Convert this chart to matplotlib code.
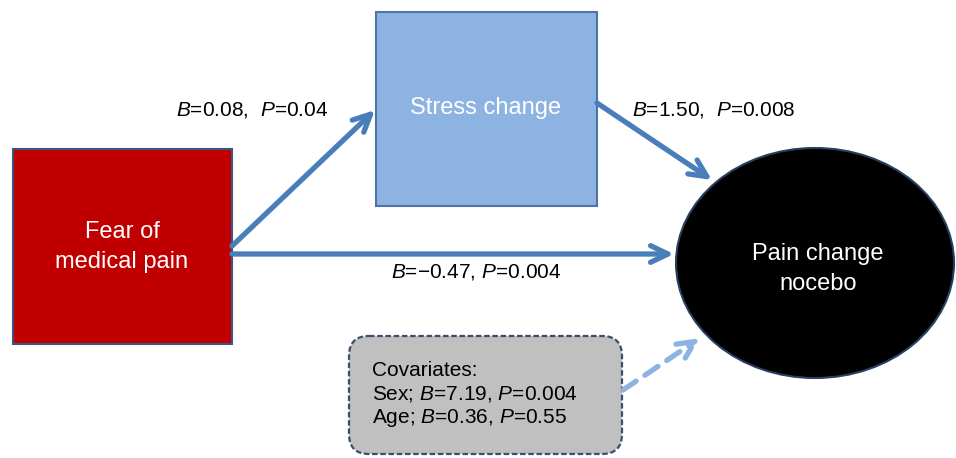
import matplotlib
matplotlib.use("Agg")
import matplotlib.pyplot as plt
from matplotlib.patches import Rectangle, Ellipse, FancyBboxPatch

plt.rcParams['font.family'] = ['Liberation Sans', 'DejaVu Sans']
plt.rcParams['mathtext.fontset'] = 'custom'
plt.rcParams['mathtext.rm'] = 'Liberation Sans'
plt.rcParams['mathtext.it'] = 'Liberation Sans:italic'

# Node labels
node_fear = "Fear of\nmedical pain"
node_stress = "Stress change"
node_pain = "Pain change\nnocebo"

# Path coefficients
B_a, P_a = "0.08", "0.04"
B_b, P_b = "1.50", "0.008"
B_c, P_c = "\u22120.47", "0.004"
cov_title = "Covariates:"
cov_names = ["Sex", "Age"]
cov_B = ["7.19", "0.36"]
cov_P = ["0.004", "0.55"]

W, H = 956, 458
fig = plt.figure(figsize=(W / 100, H / 100), dpi=100)
ax = fig.add_axes([0, 0, 1, 1])
ax.set_xlim(0, W)
ax.set_ylim(H, 0)
ax.axis('off')

arrow_col = '#4A7EBB'
edge_col = '#3B557F'

# Boxes
ax.add_patch(Rectangle((13, 149), 219, 195, facecolor='#C00000', edgecolor=edge_col, lw=1.5, zorder=2))
ax.add_patch(Rectangle((376, 12), 221, 194, facecolor='#8DB3E2', edgecolor='#4F72A8', lw=1.5, zorder=2))
ax.add_patch(Ellipse((815, 263), 278, 230, facecolor='black', edgecolor='#27405F', lw=1.5, zorder=2))
ax.add_patch(FancyBboxPatch((349, 336), 273, 118, boxstyle="round,pad=0,rounding_size=20",
                            facecolor='#C0C0C0', edgecolor='#3B4E6B', lw=1.6, ls=(0, (2.5, 1.2)), zorder=2))

# Arrows
def arrow(p0, p1, color=arrow_col, ls='-'):
    ax.annotate('', xy=p1, xytext=p0,
                arrowprops=dict(arrowstyle='->,head_length=1.25,head_width=0.6', lw=3.8,
                                color=color, linestyle=ls, shrinkA=0, shrinkB=0),
                zorder=3)

arrow((232, 246), (375, 110))
arrow((232, 254), (674, 254))
arrow((597, 103), (712, 180))
arrow((623, 390), (700, 338), color='#8DB3E2', ls=(0, (3, 2)))

fs = 15
ax.text(252, 110, rf"$B$={B_a},  $P$={P_a}", fontsize=fs, ha='center', va='center', zorder=4)
ax.text(714, 110, rf"$B$={B_b},  $P$={P_b}", fontsize=fs, ha='center', va='center', zorder=4)
ax.text(476, 272, rf"$B$={B_c}, $P$={P_c}", fontsize=fs, ha='center', va='center', zorder=4)

ax.text(486, 108, node_stress, fontsize=17, color='white', ha='center', va='center', zorder=4)
ax.text(122, 247, node_fear, fontsize=17, color='white', ha='center', va='center',
        linespacing=1.45, zorder=4)
ax.text(818, 269, node_pain, fontsize=17, color='white', ha='center', va='center',
        linespacing=1.45, zorder=4)

cov_lines = [cov_title] + [rf"{n}; $B$={b}, $P$={p}" for n, b, p in zip(cov_names, cov_B, cov_P)]
for i, line in enumerate(cov_lines):
    ax.text(372, 370 + i * 24, line, fontsize=15, ha='left', va='center', zorder=4)

fig.savefig('out.png', dpi=100)
